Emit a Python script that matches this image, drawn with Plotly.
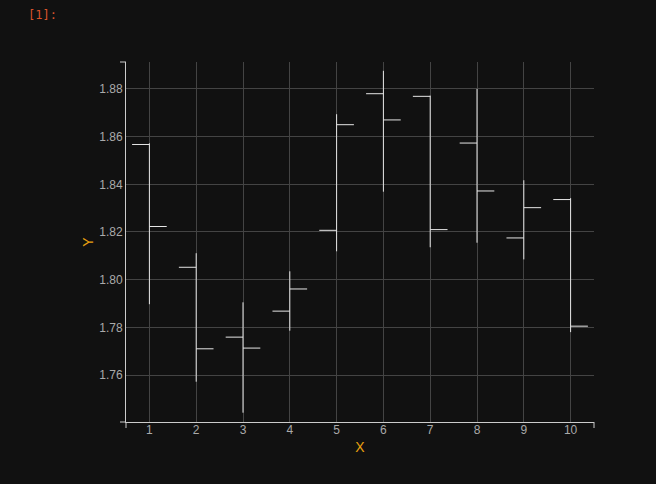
import plotly.graph_objects as go

x_vals = [1, 2, 3, 4, 5, 6, 7, 8, 9, 10]
open_vals = [1.8567, 1.8052, 1.7759, 1.7868, 1.8207, 1.8780, 1.8769, 1.8573, 1.8175, 1.8336]
high_vals = [1.8572, 1.8111, 1.7905, 1.8035, 1.8694, 1.8876, 1.8772, 1.8800, 1.8417, 1.8342]
low_vals = [1.7897, 1.7572, 1.7442, 1.7786, 1.8119, 1.8369, 1.8136, 1.8155, 1.8085, 1.7780]
close_vals = [1.8223, 1.7710, 1.7713, 1.7961, 1.8650, 1.8670, 1.8210, 1.8372, 1.8302, 1.7805]
x_ticks = [1, 2, 3, 4, 5, 6, 7, 8, 9, 10]
y_ticks = [1.76, 1.78, 1.80, 1.82, 1.84, 1.86, 1.88]

BG = "#111111"
AXIS = "#cccccc"
GRID = "#444444"
LABEL = "#aaaaaa"
TITLE = "#e8a010"

fig = go.Figure(go.Ohlc(
    x=x_vals, open=open_vals, high=high_vals, low=low_vals, close=close_vals,
    increasing=dict(line=dict(color="#e6e6e6", width=1)),
    decreasing=dict(line=dict(color="#e6e6e6", width=1)),
    tickwidth=0.37,
    showlegend=False,
))

pw, ph = 656 - 126 - 62, 484 - 62 - 62
dx = 6 / pw
dy = 6 / ph
shapes = []
for (x0, y0, x1, y1) in [(-dx, 1, 0, 1), (-dx, 0, 0, 0), (0, 0, 0, -dy), (1, 0, 1, -dy)]:
    shapes.append(dict(type="line", xref="paper", yref="paper", x0=x0, y0=y0, x1=x1, y1=y1,
                       line=dict(color=AXIS, width=1)))

fig.update_layout(
    width=656, height=484,
    margin=dict(l=126, r=62, t=62, b=62),
    paper_bgcolor=BG, plot_bgcolor=BG,
    font=dict(family="Liberation Sans, Arial, sans-serif", size=12, color=LABEL),
    shapes=shapes,
    annotations=[dict(text="[1]:", xref="paper", yref="paper", x=(26 - 126) / pw, y=1 + 47 / ph,
                      xanchor="left", yanchor="middle", showarrow=False,
                      font=dict(family="DejaVu Sans Mono, monospace", size=12, color="#d9532c"))],
    xaxis=dict(
        range=[0.5, 10.5], tickvals=x_ticks, ticktext=[str(v) for v in x_ticks],
        showgrid=True, gridcolor=GRID, gridwidth=1, zeroline=False,
        showline=True, linecolor=AXIS, linewidth=1, ticks="",
        ticklabelstandoff=-3,
        rangeslider=dict(visible=False),
        title=dict(text="X", font=dict(color=TITLE, size=14), standoff=5),
        tickfont=dict(color=LABEL, size=12),
    ),
    yaxis=dict(
        range=[1.7403, 1.8913], tickvals=y_ticks, ticktext=[f"{v:.2f}" for v in y_ticks],
        showgrid=True, gridcolor=GRID, gridwidth=1, zeroline=False,
        showline=True, linecolor=AXIS, linewidth=1, ticks="",
        title=dict(text="Y", font=dict(color=TITLE, size=14), standoff=2),
        tickfont=dict(color=LABEL, size=12),
    ),
    hovermode=False,
)

fig.write_html("out.html")
